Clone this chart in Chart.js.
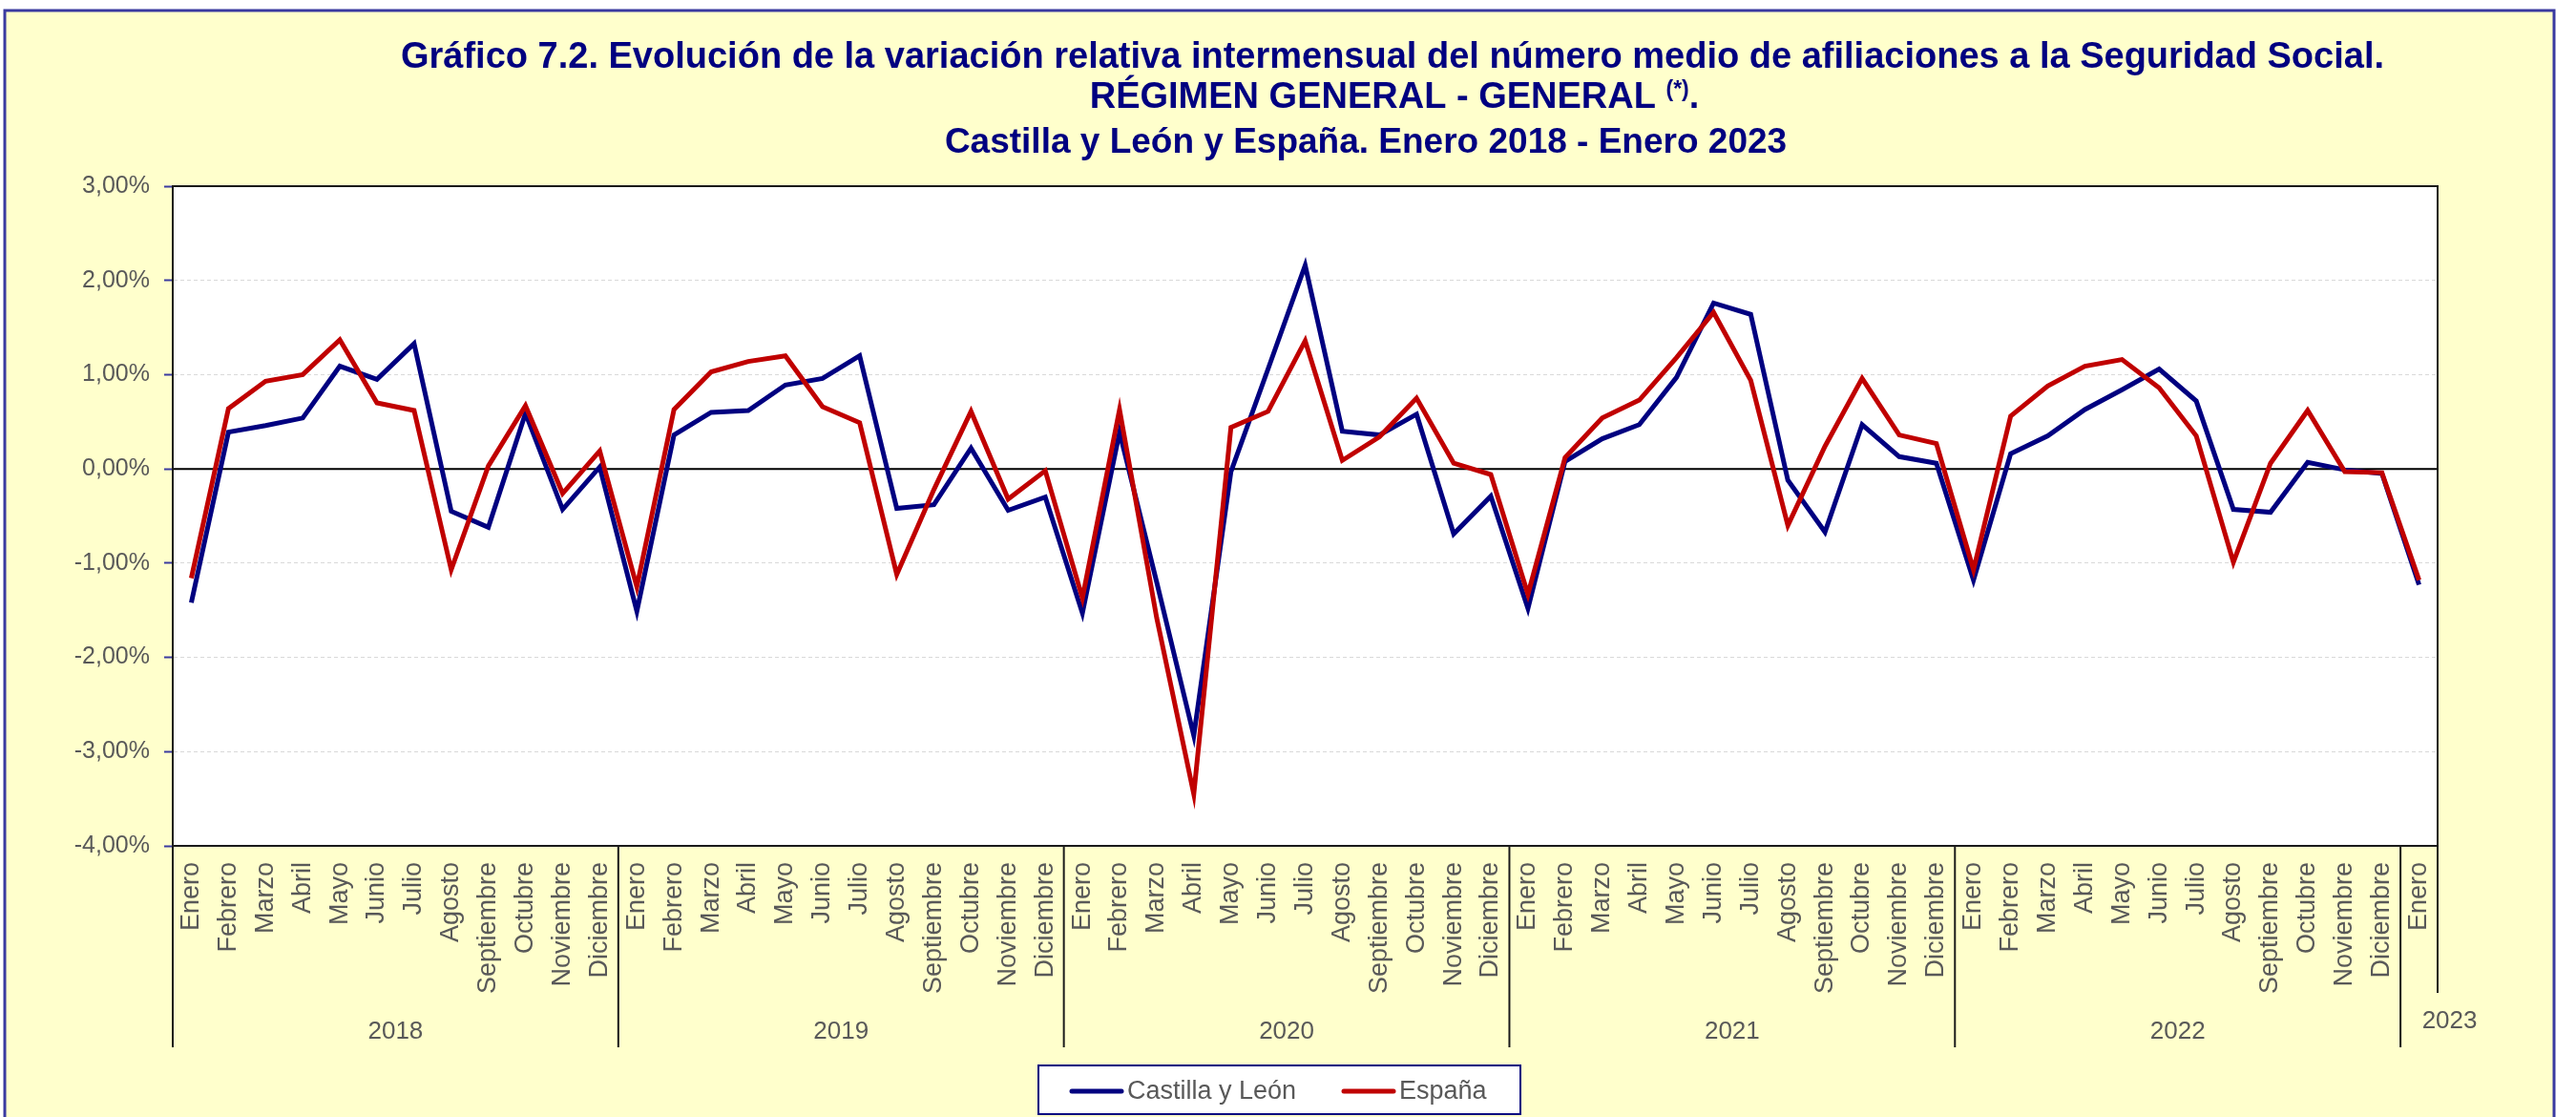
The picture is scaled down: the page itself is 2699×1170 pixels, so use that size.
<!DOCTYPE html>
<html>
<head>
<meta charset="utf-8">
<script src="https://cdn.jsdelivr.net/npm/chart.js@4.4.0/dist/chart.umd.min.js"></script>
<style>
  html, body { margin: 0; padding: 0; background: #fff; }
  canvas { display: block; }
</style>
</head>
<body>
<canvas id="grafico" width="2699" height="1170"></canvas>
<script>
// Datos del gráfico (variación intermensual, %)
const meses = ["Enero", "Febrero", "Marzo", "Abril", "Mayo", "Junio", "Julio",
  "Agosto", "Septiembre", "Octubre", "Noviembre", "Diciembre"];
const anios = ["2018", "2019", "2020", "2021", "2022", "2023"];
const mesesPorAnio = [12, 12, 12, 12, 12, 1];
const valoresEjeY = [-4, -3, -2, -1, 0, 1, 2, 3];

const castillaLeon = [
  -1.42, 0.39, 0.46, 0.54, 1.09, 0.95, 1.33, -0.45, -0.62, 0.59, -0.43, 0.02,
  -1.51, 0.36, 0.60, 0.62, 0.89, 0.96, 1.20, -0.42, -0.38, 0.22, -0.44, -0.30,
  -1.53, 0.39, -1.20, -2.83, -0.03, 1.06, 2.16, 0.40, 0.36, 0.58, -0.69, -0.29,
  -1.48, 0.08, 0.32, 0.47, 0.97, 1.76, 1.64, -0.12, -0.67, 0.47, 0.13, 0.06,
  -1.18, 0.16, 0.35, 0.63, 0.84, 1.06, 0.72, -0.43, -0.46, 0.07, -0.01, -0.05,
  -1.23
];
const espana = [
  -1.16, 0.64, 0.93, 1.00, 1.37, 0.70, 0.62, -1.07, 0.03, 0.67, -0.26, 0.19,
  -1.25, 0.63, 1.03, 1.14, 1.20, 0.66, 0.49, -1.12, -0.22, 0.61, -0.32, -0.02,
  -1.37, 0.63, -1.58, -3.45, 0.44, 0.61, 1.36, 0.09, 0.34, 0.75, 0.06, -0.06,
  -1.33, 0.12, 0.54, 0.73, 1.18, 1.66, 0.94, -0.60, 0.24, 0.96, 0.36, 0.27,
  -1.07, 0.56, 0.88, 1.09, 1.16, 0.86, 0.35, -0.99, 0.06, 0.62, -0.03, -0.04,
  -1.18
];

const etiquetas = [];
anios.forEach((a, k) => {
  for (let m = 0; m < mesesPorAnio[k]; m++) etiquetas.push(meses[m]);
});

const AZUL = "#000080";
const ROJO = "#C00000";
const GRIS = "#595959";
const FUENTE = "'Liberation Sans', Arial, sans-serif";

// límite entre categorías (índice k = inicio de la categoría k)
function limite(chart, k) {
  const xs = chart.scales.x, a = chart.chartArea;
  if (k <= 0) return a.left;
  if (k >= etiquetas.length) return a.right;
  return (xs.getPixelForValue(k - 1) + xs.getPixelForValue(k)) / 2;
}

const decorado = {
  id: "decorado",
  beforeDraw(chart) {
    const { ctx, chartArea: a } = chart;
    ctx.save();
    ctx.fillStyle = "#ffffff";
    ctx.fillRect(0, 0, chart.width, chart.height);
    ctx.fillStyle = "#FFFFCC";
    ctx.fillRect(5, 11, 2671, 1170);
    ctx.strokeStyle = "#3a3aa0";
    ctx.lineWidth = 3;
    ctx.strokeRect(5, 11, 2671, 1180);
    ctx.fillStyle = "#ffffff";
    ctx.fillRect(a.left, a.top, a.width, a.height);
    ctx.restore();
  },
  beforeDatasetsDraw(chart) {
    const { ctx, chartArea: a } = chart;
    const y0 = chart.scales.y.getPixelForValue(0);
    ctx.save();
    ctx.strokeStyle = "#000000";
    ctx.lineWidth = 2;
    ctx.beginPath();
    ctx.moveTo(a.left, y0);
    ctx.lineTo(a.right, y0);
    ctx.stroke();
    ctx.restore();
  },
  afterDraw(chart) {
    const { ctx, chartArea: a } = chart;
    ctx.save();
    // marco del área de trazado
    ctx.strokeStyle = "#1a1a1a";
    ctx.lineWidth = 2;
    ctx.strokeRect(a.left, a.top, a.width, a.height);

    // separadores y etiquetas de año
    let k = 0;
    ctx.font = "26px " + FUENTE;
    ctx.fillStyle = GRIS;
    ctx.textAlign = "center";
    ctx.textBaseline = "middle";
    anios.forEach((anio, i) => {
      const x1 = limite(chart, k);
      const x2 = limite(chart, k + mesesPorAnio[i]);
      ctx.beginPath();
      ctx.moveTo(x1, a.bottom);
      ctx.lineTo(x1, 1097);
      ctx.stroke();
      if (i === anios.length - 1) {
        ctx.beginPath();
        ctx.moveTo(x2, a.bottom);
        ctx.lineTo(x2, 1040);
        ctx.stroke();
        ctx.fillText(anio, (x1 + x2) / 2 + 32, 1070);
      } else {
        ctx.fillText(anio, (x1 + x2) / 2, 1081);
      }
      k += mesesPorAnio[i];
    });

    // título
    ctx.fillStyle = AZUL;
    ctx.textBaseline = "alphabetic";
    ctx.textAlign = "center";
    ctx.font = "bold 38px " + FUENTE;
    ctx.fillText("Gráfico 7.2. Evolución de la variación relativa intermensual del número medio de afiliaciones a la Seguridad Social.", 1459, 71);
    const t1 = "RÉGIMEN GENERAL - GENERAL ", t2 = "(*)", t3 = ".";
    const w1 = ctx.measureText(t1).width, w3 = ctx.measureText(t3).width;
    ctx.font = "bold 23px " + FUENTE;
    const w2 = ctx.measureText(t2).width;
    let x = 1461 - (w1 + w2 + w3) / 2;
    ctx.textAlign = "left";
    ctx.font = "bold 38px " + FUENTE;
    ctx.fillText(t1, x, 113);
    ctx.font = "bold 23px " + FUENTE;
    ctx.fillText(t2, x + w1, 101);
    ctx.font = "bold 38px " + FUENTE;
    ctx.fillText(t3, x + w1 + w2, 113);
    ctx.textAlign = "center";
    ctx.font = "bold 37px " + FUENTE;
    ctx.fillText("Castilla y León y España. Enero 2018 - Enero 2023", 1431, 160);

    // leyenda
    ctx.fillStyle = "#ffffff";
    ctx.fillRect(1088, 1116, 505, 51);
    ctx.strokeStyle = AZUL;
    ctx.lineWidth = 2;
    ctx.strokeRect(1088, 1116, 505, 51);
    const yl = 1143;
    const items = [
      { x: 1123, color: AZUL, text: chart.data.datasets[0].label },
      { x: 1408, color: ROJO, text: chart.data.datasets[1].label }
    ];
    ctx.font = "27px " + FUENTE;
    ctx.textAlign = "left";
    ctx.textBaseline = "middle";
    items.forEach(it => {
      ctx.strokeStyle = it.color;
      ctx.lineWidth = 5;
      ctx.lineCap = "round";
      ctx.beginPath();
      ctx.moveTo(it.x, yl);
      ctx.lineTo(it.x + 52, yl);
      ctx.stroke();
      ctx.fillStyle = GRIS;
      ctx.fillText(it.text, it.x + 58, yl + 1);
    });
    ctx.restore();
  }
};

new Chart(document.getElementById("grafico"), {
  type: "line",
  data: {
    labels: etiquetas,
    datasets: [
      {
        label: "Castilla y León",
        data: castillaLeon,
        borderColor: AZUL,
        borderWidth: 5,
        pointRadius: 0,
        tension: 0,
        fill: false,
        order: 1
      },
      {
        label: "España",
        data: espana,
        borderColor: ROJO,
        borderWidth: 5,
        pointRadius: 0,
        tension: 0,
        fill: false,
        order: 0
      }
    ]
  },
  options: {
    responsive: false,
    animation: false,
    devicePixelRatio: 1,
    layout: { padding: { left: 0, top: 195, right: 145, bottom: 0 } },
    plugins: {
      legend: { display: false },
      title: { display: false },
      tooltip: { enabled: false }
    },
    scales: {
      x: {
        type: "category",
        offset: true,
        grid: { display: false, drawTicks: false },
        border: { display: true, color: "#1a1a1a", width: 2 },
        ticks: {
          autoSkip: false,
          minRotation: 90,
          maxRotation: 90,
          padding: 17,
          color: GRIS,
          font: { family: FUENTE, size: 27 }
        },
        afterFit(s) { s.height = 284; }
      },
      y: {
        min: Math.min(...valoresEjeY),
        max: Math.max(...valoresEjeY),
        afterBuildTicks(s) { s.ticks = valoresEjeY.map(v => ({ value: v })); },
        grid: {
          color: "#d9d9d9",
          lineWidth: 1,
          tickColor: "#3a3aa0",
          tickLength: 9,
          tickWidth: 2
        },
        border: { display: true, color: "#1a1a1a", width: 2, dash: [4, 3] },
        ticks: {
          padding: 15,
          color: GRIS,
          font: { family: FUENTE, size: 25 },
          callback: v => v.toFixed(2).replace(".", ",") + "%"
        },
        afterFit(s) { s.width = 181; }
      }
    }
  },
  plugins: [decorado]
});
</script>
</body>
</html>
